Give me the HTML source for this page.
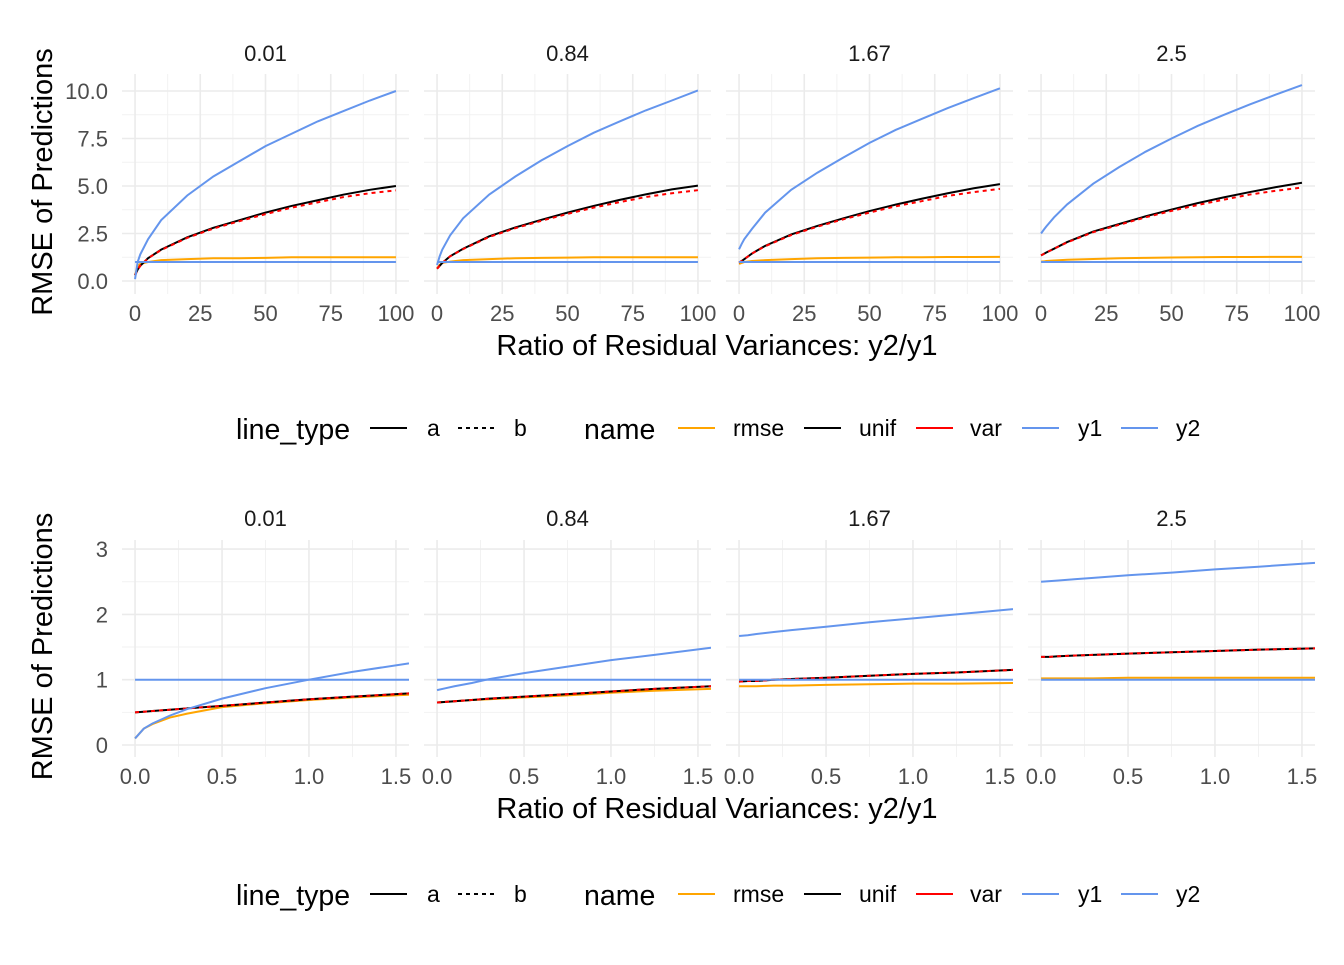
<!DOCTYPE html>
<html><head><meta charset="utf-8"><style>
body{margin:0;background:#fff}
svg text{font-family:"Liberation Sans",Arial,sans-serif}
</style></head><body>
<svg id="c" width="1344" height="960" xmlns="http://www.w3.org/2000/svg"></svg>
<script>
const facetLabels=["0.01","0.84","1.67","2.5"];
const topX=[0,1,2,5,10,20,30,40,50,60,70,80,90,100];
const topY2=[[0.1,1.0,1.4,2.2,3.2,4.5,5.5,6.3,7.1,7.75,8.4,8.95,9.5,10.0],[0.84,1.3,1.65,2.4,3.3,4.55,5.5,6.35,7.1,7.8,8.4,8.98,9.5,10.03],[1.67,1.95,2.2,2.75,3.6,4.8,5.7,6.5,7.27,7.95,8.53,9.1,9.63,10.14],[2.5,2.69,2.87,3.35,4.03,5.12,6.0,6.8,7.5,8.16,8.74,9.29,9.81,10.31]];
const topUnif=[[0.3,0.6,0.8,1.2,1.65,2.3,2.8,3.2,3.6,3.95,4.25,4.55,4.8,5.0],[0.65,0.8,0.95,1.3,1.7,2.35,2.82,3.22,3.6,3.95,4.27,4.56,4.82,5.02],[0.97,1.05,1.15,1.45,1.85,2.45,2.9,3.3,3.68,4.02,4.33,4.62,4.88,5.1],[1.35,1.42,1.5,1.7,2.05,2.6,3.0,3.4,3.76,4.1,4.4,4.68,4.94,5.17]];
const topVar=[[0.3,0.6,0.8,1.2,1.63,2.27,2.76,3.15,3.52,3.86,4.14,4.42,4.62,4.77],[0.65,0.8,0.95,1.3,1.68,2.32,2.78,3.17,3.53,3.86,4.15,4.42,4.62,4.78],[0.97,1.05,1.15,1.45,1.83,2.42,2.86,3.25,3.6,3.93,4.2,4.48,4.68,4.85],[1.35,1.42,1.5,1.7,2.03,2.57,2.96,3.35,3.69,4.0,4.28,4.55,4.75,4.92]];
const topRmse=[[0.3,0.8,0.9,1.0,1.1,1.15,1.2,1.2,1.22,1.25,1.25,1.25,1.25,1.25],[0.65,0.85,0.95,1.02,1.1,1.15,1.2,1.22,1.23,1.25,1.25,1.25,1.25,1.25],[0.9,0.95,1.0,1.05,1.1,1.15,1.2,1.22,1.23,1.25,1.25,1.26,1.26,1.27],[1.02,1.03,1.05,1.08,1.12,1.16,1.2,1.22,1.24,1.25,1.26,1.26,1.27,1.27]];
const botX=[0,0.05,0.1,0.2,0.3,0.5,0.75,1.0,1.25,1.575];
const botY2=[[0.1,0.25,0.33,0.45,0.55,0.71,0.87,1.0,1.12,1.25],[0.84,0.87,0.9,0.95,1.01,1.1,1.2,1.3,1.38,1.49],[1.67,1.68,1.7,1.73,1.76,1.81,1.88,1.94,2.0,2.08],[2.5,2.51,2.52,2.54,2.56,2.6,2.64,2.69,2.73,2.79]];
const botUnif=[[0.5,0.51,0.52,0.54,0.56,0.6,0.65,0.7,0.74,0.79],[0.65,0.66,0.67,0.69,0.71,0.74,0.78,0.82,0.86,0.9],[0.97,0.98,0.98,1.0,1.01,1.03,1.06,1.09,1.11,1.15],[1.35,1.35,1.36,1.37,1.38,1.4,1.42,1.44,1.46,1.48]];
const botRmse=[[0.1,0.25,0.32,0.42,0.48,0.58,0.64,0.69,0.73,0.77],[0.65,0.66,0.67,0.69,0.7,0.73,0.76,0.8,0.83,0.86],[0.9,0.9,0.9,0.91,0.91,0.92,0.93,0.94,0.94,0.95],[1.02,1.02,1.02,1.02,1.02,1.03,1.03,1.03,1.03,1.03]];
const topXTicks=[0,25,50,75,100], topYTicks=[0,2.5,5,7.5,10], topYLabels=["0.0","2.5","5.0","7.5","10.0"];
const botXTicks=[0,0.5,1,1.5], botXLabels=["0.0","0.5","1.0","1.5"], botYTicks=[0,1,2,3];

const svg=document.getElementById('c');
const NS="http://www.w3.org/2000/svg";
function el(tag,attrs,parent){const e=document.createElementNS(NS,tag);for(const k in attrs)e.setAttribute(k,attrs[k]);(parent||svg).appendChild(e);return e;}
function txt(s,attrs,parent){const e=el('text',attrs,parent);e.textContent=s;return e;}

function drawRow(cfg){
  for(let p=0;p<4;p++){
    const L=122+p*302, R=L+287;
    const sx=v=>L+(v-cfg.xmin)/(cfg.xmax-cfg.xmin)*(R-L);
    const sy=v=>cfg.y0+ (v-cfg.ymin)/(cfg.ymax-cfg.ymin)*(cfg.y1-cfg.y0);
    const g=el('g',{});
    
    
    cfg.xminor.forEach(v=>el('line',{x1:sx(v),x2:sx(v),y1:cfg.top,y2:cfg.bot,stroke:'#f2f2f2','stroke-width':1},g));
    cfg.yminor.forEach(v=>el('line',{x1:L,x2:R,y1:sy(v),y2:sy(v),stroke:'#f2f2f2','stroke-width':1},g));
    cfg.xt.forEach(v=>el('line',{x1:sx(v),x2:sx(v),y1:cfg.top,y2:cfg.bot,stroke:'#ebebeb','stroke-width':1.6},g));
    cfg.yt.forEach(v=>el('line',{x1:L,x2:R,y1:sy(v),y2:sy(v),stroke:'#ebebeb','stroke-width':1.6},g));
    const st=txt(facetLabels[p],{x:(L+R)/2,y:cfg.stripY,'text-anchor':'middle','font-size':22,fill:'#1a1a1a'},g);
    
    cfg.xt.forEach((v,i)=>{const t=txt(cfg.xl[i],{x:sx(v),y:cfg.bot+27,'text-anchor':'middle','font-size':22,fill:'#4d4d4d'},g);});
    if(p===0) cfg.yt.forEach((v,i)=>{const t=txt(cfg.yl[i],{x:108,y:sy(v)+8,'text-anchor':'end','font-size':22,fill:'#4d4d4d'},g);});
    const clip=el('clipPath',{id:'cl'+cfg.id+p},g);el('rect',{x:L,y:cfg.top,width:R-L,height:cfg.bot-cfg.top},clip);
    const lg=el('g',{'clip-path':'url(#cl'+cfg.id+p+')'},g);
    const line=(xs,ys,col,dash,name)=>{const pl=el('polyline',{points:xs.map((x,i)=>sx(x)+','+sy(ys[i])).join(' '),fill:'none',stroke:col,'stroke-width':2,'stroke-dasharray':dash||'none'},lg);};
    line(cfg.X,cfg.rmse[p],'#FFA500','','line-rmse');
    line(cfg.X,cfg.unif[p],'#000000','','line-unif');
    line(cfg.X,cfg.vr[p],'#FF0000','4,4','line-var');
    line([cfg.X[0],cfg.X[cfg.X.length-1]],[1,1],'#6495ED','','line-y1');
    line(cfg.X,cfg.y2[p],'#6495ED','','line-y2');
  }
  const xt=txt('Ratio of Residual Variances: y2/y1',{x:717,y:cfg.bot+61,'text-anchor':'middle','font-size':29,fill:'#000'});
  
  const yt=txt('RMSE of Predictions',{x:0,y:0,'text-anchor':'middle','font-size':29,fill:'#000',transform:`translate(52,${(cfg.top+cfg.bot)/2-2}) rotate(-90)`});
  
  const ly=cfg.legY, lg=el('g',{});
  
  
  txt('line_type',{x:236,y:ly+11,'font-size':28.5,fill:'#000'},lg);
  el('line',{x1:370,x2:407,y1:ly,y2:ly,stroke:'#000','stroke-width':2},lg);
  txt('a',{x:427,y:ly+8,'font-size':23},lg);
  el('line',{x1:458,x2:495,y1:ly,y2:ly,stroke:'#000','stroke-width':2,'stroke-dasharray':'4,4'},lg);
  txt('b',{x:514,y:ly+8,'font-size':23},lg);
  txt('name',{x:584,y:ly+11,'font-size':28.5},lg);
  const ents=[['rmse','#FFA500',678,733],['unif','#000',804,859],['var','#FF0000',916,970],['y1','#6495ED',1022,1078],['y2','#6495ED',1121,1176]];
  ents.forEach(e=>{const k=el('line',{x1:e[2],x2:e[2]+37,y1:ly,y2:ly,stroke:e[1],'stroke-width':2},lg);const t=txt(e[0],{x:e[3],y:ly+8,'font-size':23},lg);});
}
drawRow({id:'top',X:topX,y2:topY2,unif:topUnif,vr:topVar,rmse:topRmse,xmin:-5,xmax:105,ymin:0,ymax:10,y0:281,y1:91,top:74,bot:294,
  xt:topXTicks,xl:topXTicks.map(String),yt:topYTicks,yl:topYLabels,xminor:[12.5,37.5,62.5,87.5],yminor:[1.25,3.75,6.25,8.75],stripY:61,legY:428});
drawRow({id:'bottom',X:botX,y2:botY2,unif:botUnif,vr:botUnif,rmse:botRmse,xmin:-0.075,xmax:1.575,ymin:0,ymax:1,y0:745,y1:679.7,top:540,bot:757,
  xt:botXTicks,xl:botXLabels,yt:botYTicks,yl:botYTicks.map(String),xminor:[0.25,0.75,1.25],yminor:[0.5,1.5,2.5],stripY:526,legY:894});
</script>
</body></html>
